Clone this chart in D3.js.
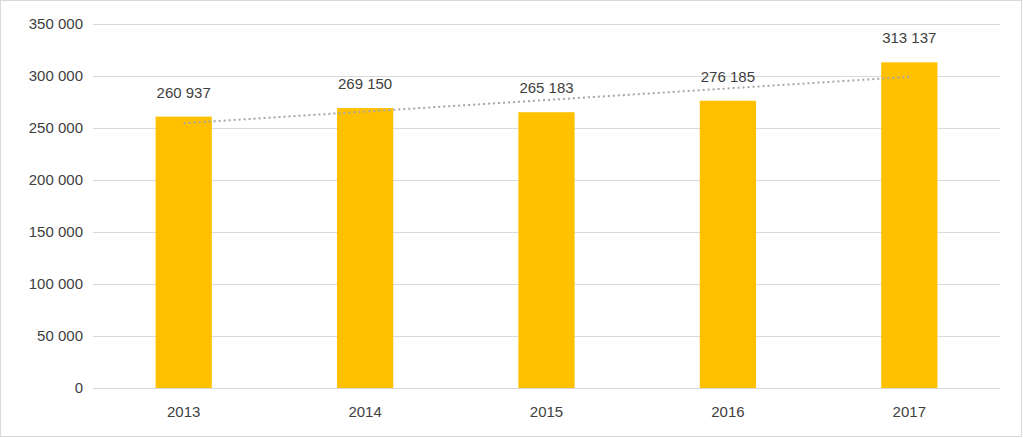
<!DOCTYPE html>
<html><head><meta charset="utf-8">
<script src="https://cdn.jsdelivr.net/npm/d3@7"></script>
<style>body{margin:0;background:#fff}text{font-family:"Liberation Sans",Arial,sans-serif}</style>
</head><body><svg id="c" width="1023" height="438"></svg>
<script>
const years = ["2013","2014","2015","2016","2017"];
const values = [260937,269150,265183,276185,313137];
const yTicks = [0,50000,100000,150000,200000,250000,300000,350000];

const svg = d3.select("#c");
const fmt = v => d3.format(",")(v).replace(/,/g," ");
svg.append("rect").attr("x",0.5).attr("y",0.5).attr("width",1021).attr("height",436).attr("fill","#fff").attr("stroke","#d9d9d9");
const x = d3.scaleBand().domain(years).range([93,1000]).paddingInner(0.69).paddingOuter(0.345);
const y = d3.scaleLinear().domain([0,350000]).range([388,24]);

svg.append("g").selectAll("line").data(yTicks).join("line")
 .attr("x1",93).attr("x2",1000).attr("y1",d=>y(d)+0.5).attr("y2",d=>y(d)+0.5)
 .attr("stroke","#d9d9d9");
svg.append("g").selectAll("text").data(yTicks).join("text")
 .attr("x",83).attr("y",d=>y(d)+5).attr("text-anchor","end").attr("font-size",15).attr("fill","#404040")
 .text(d=>fmt(d));
svg.append("g").selectAll("rect").data(values).join("rect")
 .attr("x",(d,i)=>x(years[i])).attr("width",x.bandwidth())
 .attr("y",d=>y(d)).attr("height",d=>y(0)-y(d)).attr("fill","#ffc000");
svg.append("g").selectAll("text").data(values).join("text")
 .attr("x",(d,i)=>x(years[i])+x.bandwidth()/2).attr("y",d=>y(d)-19)
 .attr("text-anchor","middle").attr("font-size",15).attr("fill","#404040").text(d=>fmt(d));
svg.append("g").selectAll("text").data(years).join("text")
 .attr("x",d=>x(d)+x.bandwidth()/2).attr("y",417).attr("text-anchor","middle")
 .attr("font-size",15).attr("fill","#404040").text(d=>d);
// linear trendline
const n=values.length, mx=(n-1)/2, my=d3.mean(values);
const slope=d3.sum(values,(v,i)=>(i-mx)*(v-my))/d3.sum(values,(v,i)=>(i-mx)**2);
const tr=i=>my+slope*(i-mx);
svg.append("line")
 .attr("x1",x(years[0])+x.bandwidth()/2).attr("y1",y(tr(0)))
 .attr("x2",x(years[n-1])+x.bandwidth()/2).attr("y2",y(tr(n-1)))
 .attr("stroke","#a6a6a6").attr("stroke-width",2).attr("stroke-dasharray","2,3");
</script></body></html>
